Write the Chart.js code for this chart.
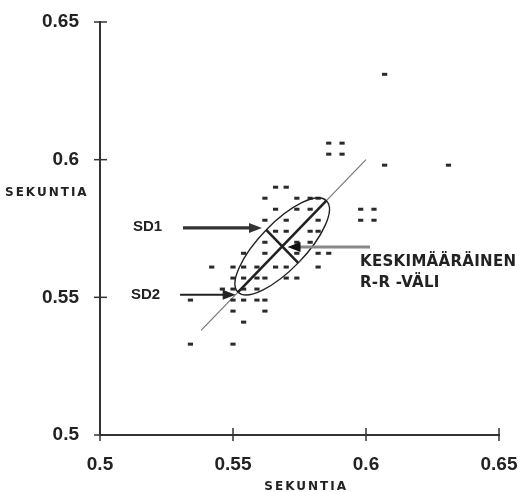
<!DOCTYPE html>
<html>
<head>
<meta charset="utf-8">
<script src="https://cdn.jsdelivr.net/npm/chart.js@4.4.1/dist/chart.umd.min.js"></script>
<style>
html, body { margin: 0; padding: 0; background: #fff; }
</style>
</head>
<body>
<canvas id="chart" width="522" height="492"></canvas>
<script>
const X_TICKS = [0.5, 0.55, 0.6, 0.65];
const Y_TICKS = [0.5, 0.55, 0.6, 0.65];

// RR(n) vaaka-akselilla, RR(n+1) pystyakselilla, luettu kuvasta
const RR_X = [
    0.607, 0.607, 0.631,
    0.586, 0.591, 0.586, 0.591,
    0.598, 0.603, 0.598, 0.603,
    0.582, 0.586, 0.582,
    0.566, 0.570,
    0.562, 0.574, 0.579, 0.582,
    0.566, 0.574, 0.579,
    0.562, 0.570, 0.582,
    0.566, 0.570, 0.579, 0.582,
    0.562, 0.574, 0.579,
    0.554, 0.562, 0.574,
    0.542, 0.550, 0.554, 0.559, 0.566, 0.570,
    0.550, 0.554, 0.559, 0.562, 0.570, 0.574,
    0.546, 0.550, 0.554, 0.559,
    0.534, 0.550, 0.554, 0.559, 0.562,
    0.550, 0.562,
    0.554,
    0.534, 0.550
];
const RR_Y = [
    0.631, 0.598, 0.598,
    0.606, 0.606, 0.602, 0.602,
    0.582, 0.582, 0.578, 0.578,
    0.566, 0.566, 0.561,
    0.590, 0.590,
    0.586, 0.586, 0.586, 0.586,
    0.582, 0.582, 0.582,
    0.578, 0.578, 0.578,
    0.574, 0.574, 0.574, 0.574,
    0.570, 0.570, 0.570,
    0.566, 0.566, 0.566,
    0.561, 0.561, 0.561, 0.561, 0.561, 0.561,
    0.557, 0.557, 0.557, 0.557, 0.557, 0.557,
    0.553, 0.553, 0.553, 0.553,
    0.549, 0.549, 0.549, 0.549, 0.549,
    0.545, 0.545,
    0.541,
    0.533, 0.533
];

// identiteettiviiva
const IDENTITY_X = [0.538, 0.600];
const IDENTITY_Y = [0.538, 0.600];

const MEAN_RR = 0.5685;
const SD1 = 0.0085;
const SD2 = 0.0235;

// nuolet
const ARROWS = [
    { from: [0.5312, 0.5752], to: [0.5609, 0.5752], width: 3.2, color: '#333' },
    { from: [0.5301, 0.5509], to: [0.5510, 0.5509], width: 2, color: '#222' },
    { from: [0.6015, 0.5683], to: [0.5705, 0.5683], width: 3, color: '#888', head: '#111' }
];

const INK = '#222';

function arrow(ctx, x1, y1, x2, y2, a) {
    const ang = Math.atan2(y2 - y1, x2 - x1);
    const len = 13, half = 5;
    ctx.strokeStyle = a.color;
    ctx.lineWidth = a.width;
    ctx.beginPath();
    ctx.moveTo(x1, y1);
    ctx.lineTo(x2 - Math.cos(ang) * len * 0.6, y2 - Math.sin(ang) * len * 0.6);
    ctx.stroke();
    ctx.fillStyle = a.head || a.color;
    ctx.beginPath();
    ctx.moveTo(x2, y2);
    ctx.lineTo(x2 - Math.cos(ang) * len - Math.sin(ang) * half, y2 - Math.sin(ang) * len + Math.cos(ang) * half);
    ctx.lineTo(x2 - Math.cos(ang) * len + Math.sin(ang) * half, y2 - Math.sin(ang) * len - Math.cos(ang) * half);
    ctx.closePath();
    ctx.fill();
}

const poincarePlugin = {
    id: 'poincare',
    afterDatasetsDraw(chart) {
        const ctx = chart.ctx;
        const xs = chart.scales.x, ys = chart.scales.y;
        const px = v => xs.getPixelForValue(v);
        const py = v => ys.getPixelForValue(v);
        ctx.save();

        // akseleiden jakoviivat molemmin puolin
        ctx.strokeStyle = '#333';
        ctx.lineWidth = 1.5;
        const ax = chart.chartArea.left, ay = chart.chartArea.bottom;
        Y_TICKS.forEach(v => {
            ctx.beginPath();
            ctx.moveTo(ax - 6, py(v));
            ctx.lineTo(ax + 7, py(v));
            ctx.stroke();
        });
        X_TICKS.forEach(v => {
            ctx.beginPath();
            ctx.moveTo(px(v), ay - 7);
            ctx.lineTo(px(v), ay + 6);
            ctx.stroke();
        });

        // ellipsi ja sen akselit
        const d = SD2 / Math.SQRT2, e = SD1 / Math.SQRT2;
        const p1 = [px(MEAN_RR - d), py(MEAN_RR - d)];
        const p2 = [px(MEAN_RR + d), py(MEAN_RR + d)];
        const q1 = [px(MEAN_RR - e), py(MEAN_RR + e)];
        const q2 = [px(MEAN_RR + e), py(MEAN_RR - e)];
        const cx = px(MEAN_RR), cy = py(MEAN_RR);
        const a = Math.hypot(p2[0] - p1[0], p2[1] - p1[1]) / 2;
        const b = Math.hypot(q2[0] - q1[0], q2[1] - q1[1]) / 2;
        const rot = Math.atan2(p2[1] - p1[1], p2[0] - p1[0]);

        ctx.strokeStyle = INK;
        ctx.lineWidth = 1.4;
        ctx.beginPath();
        ctx.ellipse(cx, cy, a, b, rot, 0, Math.PI * 2);
        ctx.stroke();

        ctx.lineWidth = 2.6;
        ctx.beginPath();
        ctx.moveTo(p1[0], p1[1]);
        ctx.lineTo(p2[0], p2[1]);
        ctx.moveTo(q1[0], q1[1]);
        ctx.lineTo(q2[0], q2[1]);
        ctx.stroke();

        ARROWS.forEach(ar => {
            arrow(ctx, px(ar.from[0]), py(ar.from[1]), px(ar.to[0]), py(ar.to[1]), ar);
        });

        // tekstit
        ctx.fillStyle = INK;
        ctx.textBaseline = 'middle';
        ctx.textAlign = 'left';
        ctx.font = 'bold 15px "Liberation Sans", Arial, sans-serif';
        ctx.fillText('SD1', 133, py(0.5752) - 1);
        ctx.fillText('SD2', 131, py(0.5509));

        ctx.font = 'bold 15px "DejaVu Sans", sans-serif';
        ctx.letterSpacing = '0.3px';
        ctx.fillText('KESKIMÄÄRÄINEN', 360, 262);
        ctx.fillText('R-R -VÄLI', 360, 283);

        ctx.font = 'bold 12px "DejaVu Sans", sans-serif';
        ctx.letterSpacing = '2px';
        ctx.fillText('SEKUNTIA', 5, 193);
        ctx.textAlign = 'center';
        ctx.fillText('SEKUNTIA', px(0.5775), 487);
        ctx.restore();
    }
};

const points = RR_X.map((x, i) => ({ x: x, y: RR_Y[i] }));
const identity = IDENTITY_X.map((x, i) => ({ x: x, y: IDENTITY_Y[i] }));

const tickFont = { family: '"Liberation Sans", Arial, sans-serif', size: 19, weight: 'bold' };

new Chart(document.getElementById('chart'), {
    type: 'scatter',
    data: {
        datasets: [
            {
                data: points,
                pointStyle: 'line',
                pointRadius: 2.6,
                pointBorderWidth: 3,
                borderColor: '#2a2a2a',
                backgroundColor: '#2a2a2a'
            },
            {
                type: 'line',
                data: identity,
                borderColor: '#777',
                borderWidth: 1.2,
                pointRadius: 0,
                fill: false
            }
        ]
    },
    options: {
        responsive: false,
        animation: false,
        layout: { padding: { top: 22, right: 23, left: 0, bottom: 0 } },
        plugins: { legend: { display: false }, tooltip: { enabled: false } },
        scales: {
            x: {
                type: 'linear',
                min: 0.5,
                max: 0.65,
                afterBuildTicks: s => { s.ticks = X_TICKS.map(v => ({ value: v })); },
                afterFit: s => { s.height = 57; s.paddingLeft = 0; s.paddingRight = 0; },
                grid: { display: false },
                border: { display: true, color: '#333', width: 2 },
                ticks: { color: INK, font: tickFont, padding: 10, maxRotation: 0, callback: v => String(v) }
            },
            y: {
                type: 'linear',
                min: 0.5,
                max: 0.65,
                afterBuildTicks: s => { s.ticks = Y_TICKS.map(v => ({ value: v })); },
                afterFit: s => { s.width = 100; s.paddingTop = 0; s.paddingBottom = 0; },
                grid: { display: false },
                border: { display: true, color: '#333', width: 2 },
                ticks: { color: INK, font: tickFont, padding: 13, callback: v => String(v) }
            }
        }
    },
    plugins: [poincarePlugin]
});
</script>
</body>
</html>
